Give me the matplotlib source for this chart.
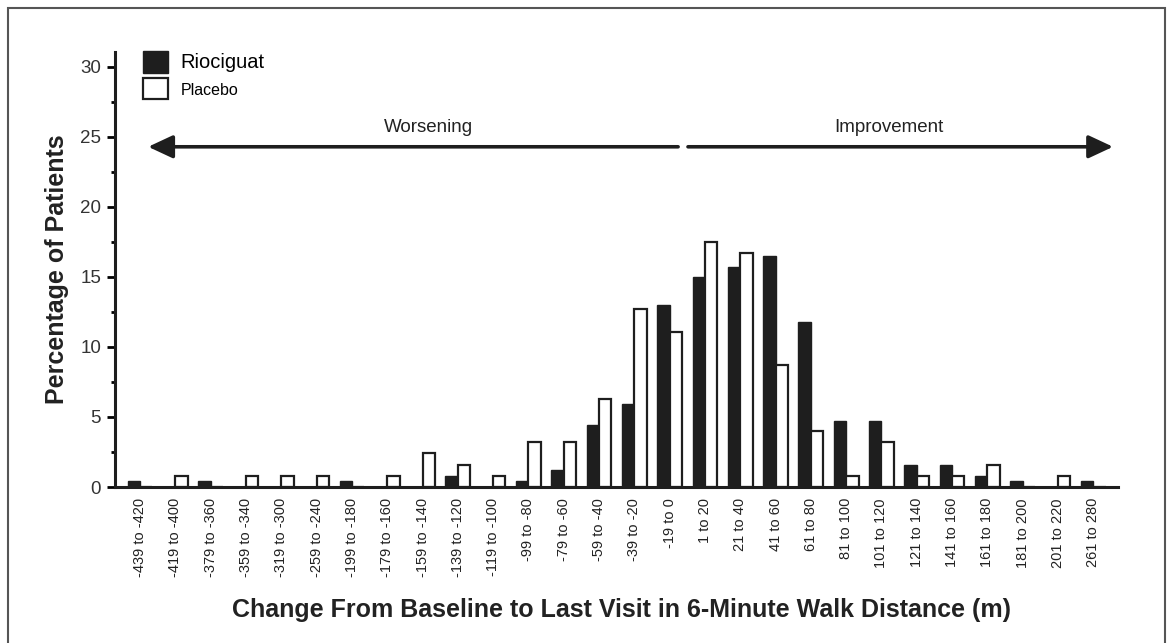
import numpy as np
import matplotlib
matplotlib.use("Agg")
import matplotlib.pyplot as plt
from matplotlib.patches import Patch, Rectangle

plt.rcParams['font.family'] = ['Liberation Sans', 'DejaVu Sans']

# dados
faixas = ["-439 to -420", "-419 to -400", "-379 to -360", "-359 to -340", "-319 to -300",
          "-259 to -240", "-199 to -180", "-179 to -160", "-159 to -140", "-139 to -120",
          "-119 to -100", "-99 to -80", "-79 to -60", "-59 to -40", "-39 to -20", "-19 to 0",
          "1 to 20", "21 to 40", "41 to 60", "61 to 80", "81 to 100", "101 to 120",
          "121 to 140", "141 to 160", "161 to 180", "181 to 200", "201 to 220", "261 to 280"]
riociguat = [0.4, 0, 0.4, 0, 0, 0, 0.4, 0, 0, 0.8, 0, 0.4, 1.2, 4.4, 5.9, 13.0,
             15.0, 15.7, 16.5, 11.8, 4.7, 4.7, 1.6, 1.6, 0.8, 0.4, 0, 0.4]
placebo = [0, 0.8, 0, 0.8, 0.8, 0.8, 0, 0.8, 2.4, 1.6, 0.8, 3.2, 3.2, 6.3, 12.7, 11.1,
           17.5, 16.7, 8.7, 4.0, 0.8, 3.2, 0.8, 0.8, 1.6, 0, 0.8, 0]

x = np.arange(len(faixas))
w = 0.35

fig = plt.figure(figsize=(11.71, 6.43), dpi=100)
ax = fig.add_axes([115 / 1171, 1 - 487 / 643, (1118 - 115) / 1171, (487 - 52) / 643])

ax.bar(x - w / 2, riociguat, width=w, color='#1e1e1e', edgecolor='#1e1e1e', linewidth=1)
ax.bar(x + w / 2, placebo, width=w, color='white', edgecolor='#1e1e1e', linewidth=1.6)

ax.set_xlim(-0.71, 27.7)
ax.set_ylim(0, 31.07)
ax.set_xticks(x)
ax.set_xticklabels(faixas, rotation=90, fontsize=10.5, color='#222222')
ax.tick_params(axis='x', length=0, pad=8)
ax.set_yticks([0, 5, 10, 15, 20, 25, 30])
ax.set_yticks(np.arange(2.5, 30, 5), minor=True)
ax.tick_params(axis='y', which='major', length=6, width=2, labelsize=13.5, labelcolor='#333333', pad=4)
ax.tick_params(axis='y', which='minor', length=3, width=2)

for s in ['top', 'right']:
    ax.spines[s].set_visible(False)
ax.spines['left'].set_linewidth(2.2)
ax.spines['bottom'].set_linewidth(2.2)
ax.spines['left'].set_color('#1e1e1e')
ax.spines['bottom'].set_color('#1e1e1e')

ax.set_ylabel('Percentage of Patients', fontsize=18, fontweight='bold', color='#222222', labelpad=8)
fig.text(622 / 1171, 1 - 610 / 643, 'Change From Baseline to Last Visit in 6-Minute Walk Distance (m)',
         ha='center', va='center', fontsize=18, fontweight='bold', color='#222222')

# setas
seta = dict(arrowstyle='-|>,head_length=1.5,head_width=0.7', color='#1e1e1e', lw=2.6,
            shrinkA=0, shrinkB=0)
ax.annotate('', xy=(0.23, 24.3), xytext=(15.24, 24.3), arrowprops=seta)
ax.annotate('', xy=(27.56, 24.3), xytext=(15.52, 24.3), arrowprops=seta)
ax.text(8.16, 25.7, 'Worsening', ha='center', va='center', fontsize=13.5, color='#222222')
ax.text(21.2, 25.7, 'Improvement', ha='center', va='center', fontsize=13.5, color='#222222')

# legenda
hs = [Patch(facecolor='#1e1e1e', edgecolor='#1e1e1e'),
      Patch(facecolor='white', edgecolor='#1e1e1e', linewidth=1.6)]
leg = ax.legend(hs, ['Riociguat', 'Placebo'], loc='upper left', bbox_to_anchor=(0.01, 1.045),
                frameon=False, handlelength=1.25, handleheight=1.3, handletextpad=0.6,
                labelspacing=0.25, fontsize=14.5)
leg.get_texts()[1].set_fontsize(11.5)

# moldura
fig.patches.append(Rectangle((8 / 1171, -0.01), (1165 - 8) / 1171, 1 - 8 / 643 + 0.01,
                             transform=fig.transFigure, fill=False, edgecolor='#555555', lw=1.5))

fig.savefig('out.png', dpi=100)
